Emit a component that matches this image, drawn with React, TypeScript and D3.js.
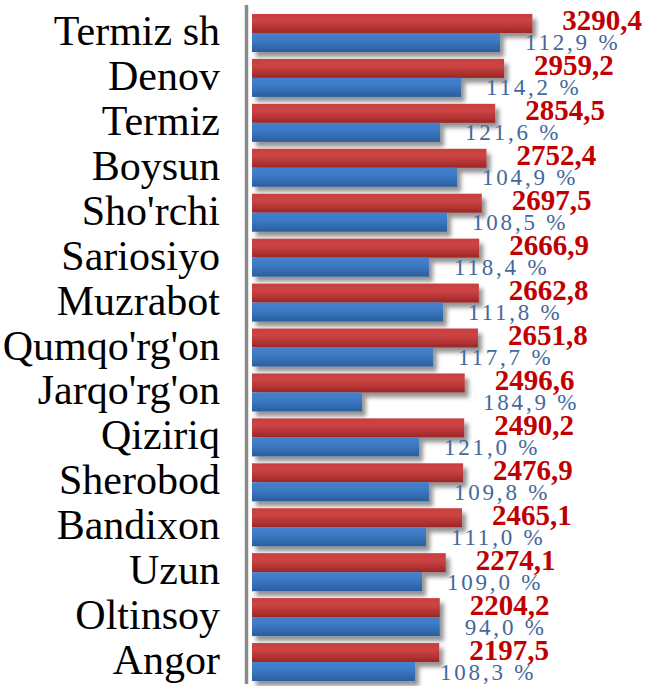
import { useMemo } from "react";
import * as d3 from "d3";

const WIDTH = 648;
const HEIGHT = 686;

// districts, top to bottom
const DISTRICTS = [
  "Termiz sh",
  "Denov",
  "Termiz",
  "Boysun",
  "Sho'rchi",
  "Sariosiyo",
  "Muzrabot",
  "Qumqo'rg'on",
  "Jarqo'rg'on",
  "Qiziriq",
  "Sherobod",
  "Bandixon",
  "Uzun",
  "Oltinsoy",
  "Angor",
];

// red bars (current value)
const CURRENT = [
  3290.4, 2959.2, 2854.5, 2752.4, 2697.5, 2666.9, 2662.8, 2651.8, 2496.6, 2490.2,
  2476.9, 2465.1, 2274.1, 2204.2, 2197.5,
];

// blue bars
const PREVIOUS = [
  2911, 2453, 2207, 2406, 2289, 2077, 2242, 2124, 1291, 1960, 2077, 2042, 1995, 2204, 1913,
];

// growth labels on the blue bars
const GROWTH = [
  112.9, 114.2, 121.6, 104.9, 108.5, 118.4, 111.8, 117.7, 184.9, 121.0, 109.8, 111.0, 109.0,
  94.0, 108.3,
];

const SERIES = ["current", "previous"];

const FONT = "Liberation Serif, DejaVu Serif, serif";

// one label was dragged away from its bar in the original
const PCT_NUDGE: Record<string, number> = { "Jarqo'rg'on": 96 };

const fmt = (v: number) => d3.format(".1f")(v).replace(".", ",");

const App = () => {
  const rows = DISTRICTS.map((name, i) => ({
    name,
    current: CURRENT[i],
    previous: PREVIOUS[i],
    growth: GROWTH[i],
  }));

  const yScale = useMemo(
    () =>
      d3
        .scaleBand<string>()
        .domain(DISTRICTS)
        .range([10.5, 684.5])
        .paddingInner(0.154)
        .paddingOuter(0.077),
    []
  );

  const subScale = useMemo(
    () => d3.scaleBand<string>().domain(SERIES).range([0, yScale.bandwidth()]),
    [yScale]
  );

  const xScale = useMemo(
    () => d3.scaleLinear().domain([0, 3500]).range([252, 550.2]),
    []
  );

  const x0 = xScale(0);
  const bh = subScale.bandwidth();

  return (
    <svg
      width={WIDTH}
      height={HEIGHT}
      style={{ position: "absolute", left: 0, top: 0, background: "white", fontFamily: FONT }}
    >
      <defs>
        <linearGradient id="redGrad" x1="0" y1="0" x2="0" y2="1">
          <stop offset="0%" stopColor="#c93f3f" />
          <stop offset="35%" stopColor="#cd4444" />
          <stop offset="70%" stopColor="#b53434" />
          <stop offset="100%" stopColor="#982727" />
        </linearGradient>
        <linearGradient id="blueGrad" x1="0" y1="0" x2="0" y2="1">
          <stop offset="0%" stopColor="#4680cc" />
          <stop offset="35%" stopColor="#3e7bc6" />
          <stop offset="70%" stopColor="#336cb2" />
          <stop offset="100%" stopColor="#2b5d9c" />
        </linearGradient>
        <filter id="shadow" x="-10%" y="-40%" width="130%" height="200%">
          <feDropShadow dx="4" dy="5" stdDeviation="2" floodColor="#000" floodOpacity="0.42" />
        </filter>
      </defs>

      {/* category labels */}
      {rows.map((d) => (
        <text
          key={"cat" + d.name}
          x={220}
          y={(yScale(d.name) ?? 0) + yScale.bandwidth() / 2 + 12}
          textAnchor="end"
          style={{ fontFamily: FONT }}
          fontSize={42}
          fill="#000"
        >
          {d.name}
        </text>
      ))}

      {/* bars */}
      <g filter="url(#shadow)">
        {rows.map((d) => {
          const y = yScale(d.name) ?? 0;
          return (
            <g key={"bar" + d.name}>
              <rect
                x={x0}
                y={y + (subScale("current") ?? 0)}
                width={xScale(d.current) - x0}
                height={bh}
                fill="url(#redGrad)"
              />
              <rect
                x={x0}
                y={y + (subScale("previous") ?? 0)}
                width={xScale(d.previous) - x0}
                height={bh}
                fill="url(#blueGrad)"
              />
            </g>
          );
        })}
      </g>

      {/* axis line */}
      <line x1={246.5} x2={246.5} y1={5} y2={684} stroke="#8a8a8a" strokeWidth={3.5} />

      {/* growth labels */}
      {rows.map((d) => {
        const y = (yScale(d.name) ?? 0) + (subScale("previous") ?? 0) + bh;
        return (
          <text
            key={"pct" + d.name}
            x={xScale(d.previous) + 25 + (PCT_NUDGE[d.name] ?? 0)}
            y={y - 1.5}
            style={{ fontFamily: FONT }}
            fontSize={23}
            letterSpacing={2.8}
            fill="#44689c"
          >
            {fmt(d.growth) + " %"}
          </text>
        );
      })}

      {/* value labels */}
      {rows.map((d) => {
        const y = (yScale(d.name) ?? 0) + (subScale("current") ?? 0) + bh;
        return (
          <text
            key={"val" + d.name}
            x={xScale(d.current) + 30}
            y={y - 2.5}
            style={{ fontFamily: FONT }}
            fontSize={29}
            fontWeight="bold"
            fill="#c00000"
          >
            {fmt(d.current)}
          </text>
        );
      })}
    </svg>
  );
};

export default App;
